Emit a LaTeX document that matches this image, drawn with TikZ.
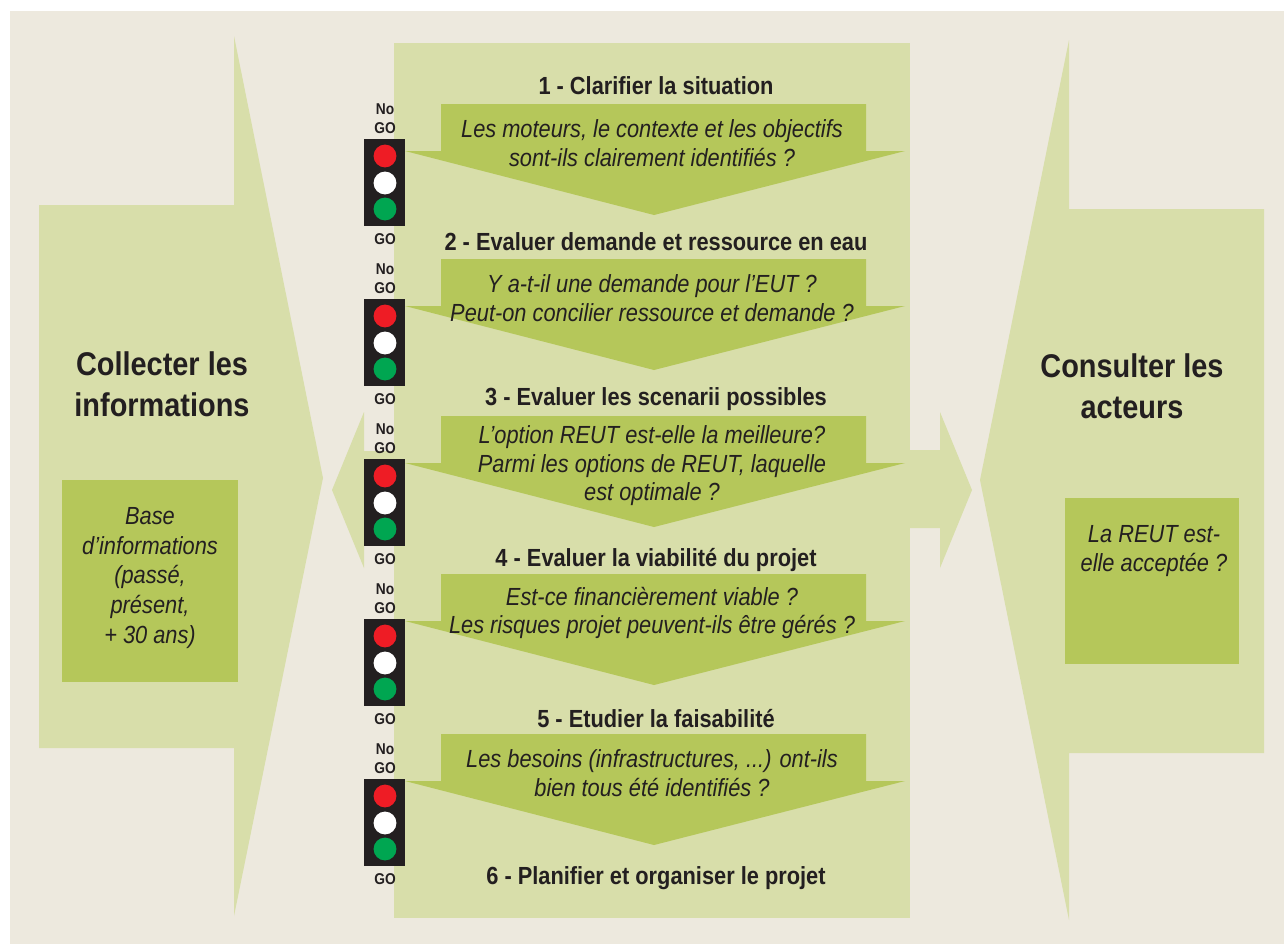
\documentclass[tikz,border=0pt]{standalone}
\usepackage{fontspec}
\usepackage{xcolor}
\setmainfont[FakeStretch=0.88]{Liberation Sans}
\usetikzlibrary{positioning}
\definecolor{sand}{HTML}{EDE9DE}
\definecolor{pale}{HTML}{D8DEAA}
\definecolor{olive}{HTML}{B5C75A}
\definecolor{ink}{HTML}{231F20}
\definecolor{stopred}{HTML}{EE1C25}
\definecolor{gogreen}{HTML}{00A651}
\tikzset{
  steptitle/.style={font=\bfseries\fontsize{14.1}{15}\selectfont,text=ink,inner sep=0pt,anchor=base},
  question/.style={font=\itshape\fontsize{14.1}{16.2}\selectfont,text=ink,align=center,inner sep=0pt},
  sidetitle/.style={font=\bfseries\fontsize{18.7}{23.5}\selectfont,text=ink,align=center,inner sep=0pt},
  sidebox/.style={font=\itshape\fontsize{14.1}{17}\selectfont,text=ink,align=center,inner sep=0pt},
  golabel/.style={font=\bfseries\fontsize{8.9}{11}\selectfont,text=ink,align=center,inner sep=0pt},
  lamp/.style={circle,minimum size=13pt,inner sep=0pt}
}
\begin{document}
\begin{tikzpicture}[x=0.02cm,y=-0.02cm]
    \useasboundingbox (0,0) rectangle (1284,944);

    % one traffic light, #1 is its name and #2 its top edge
    \def\trafficlight#1#2{
      \fill[ink] (364,#2) rectangle ++(41,87);
      \node[lamp,fill=stopred] (#1red) at (385,#2+17) {};
      \node[lamp,fill=white] (#1white) at (385,#2+44) {};
      \node[lamp,fill=gogreen] (#1green) at (385,#2+70) {};
      \node[golabel] (#1nogo) at (385,#2-20) {No\\GO};
      \node[golabel] (#1go) at (385,#2+100) {GO};
    }
    % one down arrow, #1 is its top edge
    \def\downarrow#1{
      \fill[olive] (441,#1) -- (866,#1) -- (866,#1+47) -- (905,#1+47) -- (654,#1+111) -- (405,#1+47) -- (441,#1+47) -- cycle;
    }

    \fill[sand] (10,11) rectangle (1284,944);

    % side arrows
    \fill[pale] (39,205) -- (234,205) -- (234,36) -- (323,478) -- (234,916) -- (234,748) -- (39,748) -- cycle;
    \fill[pale] (1264,209) -- (1069,209) -- (1069,40) -- (980,480) -- (1069,920) -- (1069,753) -- (1264,753) -- cycle;
    \fill[pale] (394,451) -- (364,451) -- (364,412) -- (332,490) -- (364,568) -- (364,528) -- (394,528) -- cycle;
    \fill[pale] (910,450) -- (940,450) -- (940,412) -- (972,490) -- (940,568) -- (940,528) -- (910,528) -- cycle;
    \fill[pale] (394,43) rectangle (910,918);

    \fill[olive] (62,480) rectangle (238,682);
    \fill[olive] (1065,498) rectangle (1239,664);

    \node[sidetitle] (collect) at (162,384) {Collecter les\\informations};
    \node[sidebox] (base) at (150,578) {Base\\d’informations\\(passé,\\présent,\\+ 30 ans)};
    \node[sidetitle] (consult) at (1132,386) {Consulter les\\acteurs};
    \node[sidebox] (accept) at (1154,551) {La REUT est-\\elle acceptée ?};

    \downarrow{104}
    \downarrow{259}
    \downarrow{416}
    \downarrow{574}
    \downarrow{734}

    \trafficlight{one}{139}
    \trafficlight{two}{299}
    \trafficlight{three}{459}
    \trafficlight{four}{619}
    \trafficlight{five}{779}

    \node[steptitle] (stepone) at (656,94) {1 - Clarifier la situation};
    \node[question] (askone) at (652,143) {Les moteurs, le contexte et les objectifs\\sont-ils clairement identifiés ?};
    \node[steptitle] (steptwo) at (656,250) {2 - Evaluer demande et ressource en eau};
    \node[question] (asktwo) at (652,298) {Y a-t-il une demande pour l’EUT ?\\Peut-on concilier ressource et demande ?};
    \node[steptitle] (stepthree) at (656,405) {3 - Evaluer les scenarii possibles};
    \node[question] (askthree) at (652,466) {L’option REUT est-elle la meilleure?\\Parmi les options de REUT, laquelle\\est optimale ?};
    \node[steptitle] (stepfour) at (656,566) {4 - Evaluer la viabilité du projet};
    \node[question] (askfour) at (652,613) {Est-ce financièrement viable ?\\Les risques projet peuvent-ils être gérés ?};
    \node[steptitle] (stepfive) at (656,727) {5 - Etudier la faisabilité};
    \node[question] (askfive) at (652,773) {Les besoins (infrastructures, ...) ont-ils\\bien tous été identifiés ?};
    \node[steptitle] (stepsix) at (656,884) {6 - Planifier et organiser le projet};
\end{tikzpicture}
\end{document}
